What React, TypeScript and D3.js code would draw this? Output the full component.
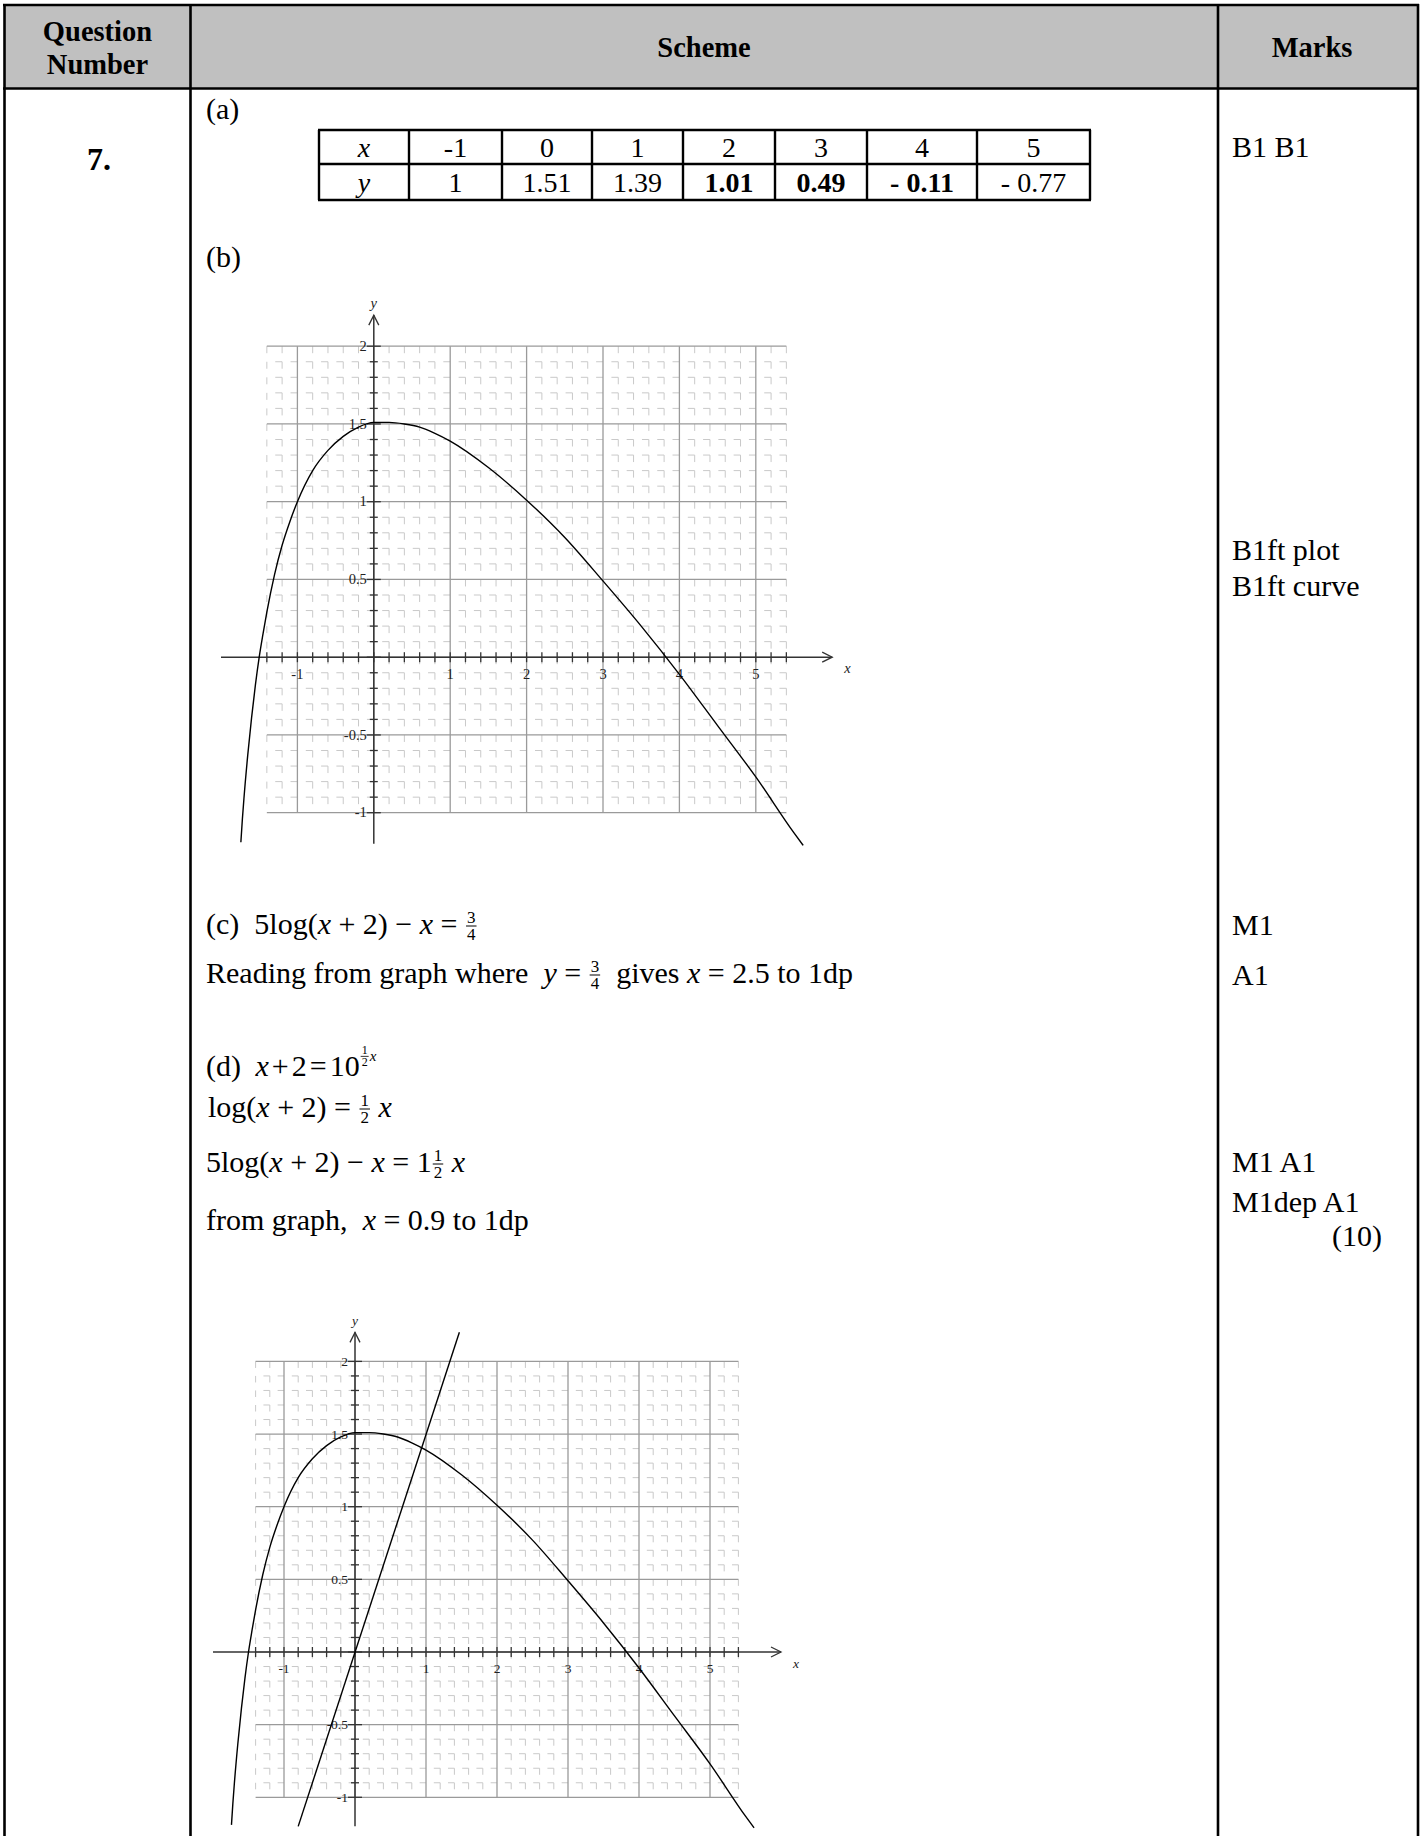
import { useEffect, useRef } from 'react';
import * as d3 from 'd3';

const W = 1424;
const H = 1836;
const serif = "'Liberation Serif', 'Times New Roman', Times, serif";

// ---- data ----
// part (a) table
const tableXs = ['-1', '0', '1', '2', '3', '4', '5'];
const tableYs = ['1', '1.51', '1.39', '1.01', '0.49', '- 0.11', '- 0.77'];
const tableBold = [false, false, false, true, true, true, false];

// y = 5log(x+2) - x
const curveX = [-1.74, -1.72, -1.7, -1.65, -1.6, -1.55, -1.5, -1.45, -1.4, -1.3, -1.2, -1.1, -1, -0.8, -0.6, -0.4, -0.2, 0, 0.2, 0.4, 0.6, 0.8, 1, 1.5, 2, 2.5, 3, 3.5, 4, 4.5, 5, 5.5, 5.62];
const curveY = [-1.19, -1.04, -0.91, -0.63, -0.39, -0.18, 0, 0.15, 0.29, 0.53, 0.72, 0.87, 1, 1.2, 1.33, 1.42, 1.48, 1.51, 1.51, 1.5, 1.48, 1.44, 1.39, 1.22, 1.01, 0.77, 0.49, 0.2, -0.11, -0.44, -0.77, -1.13, -1.21];

// straight line y = 1.5x on the second graph (end points)
const lineX = [-0.8, 1.47];
const lineY = [-1.2, 2.2];

const xTickVals = [-1, 1, 2, 3, 4, 5];
const xTickLabels = ['-1', '1', '2', '3', '4', '5'];
const yTickVals = [2, 1.5, 1, 0.5, -0.5, -1];
const yTickLabels = ['2', '1.5', '1', '0.5', '-0.5', '-1'];

const marksText = ['B1 B1', 'B1ft plot', 'B1ft curve', 'M1', 'A1', 'M1 A1', 'M1dep A1'];

// ---- layout ----
const colEdges = [319, 409, 502, 592, 683, 775, 867, 977, 1090];
const rowEdges = [130, 164, 200];
const marksBase = [157, 560, 596, 935, 985, 1172, 1212];

type Part = { t?: string; i?: boolean; frac?: [string, string]; fs?: number; rise?: number; size?: number; gap?: number };

function mathLine(g: any, x0: number, y0: number, parts: Part[], size = 30) {
  let cx = x0;
  parts.forEach((p) => {
    if (p.gap !== undefined) {
      cx += p.gap;
    } else if (p.frac) {
      const fs = p.fs || 17;
      const base = y0 - (p.rise || 0);
      const num = g.append('text').attr('font-size', fs).attr('text-anchor', 'middle').text(p.frac[0]);
      const den = g.append('text').attr('font-size', fs).attr('text-anchor', 'middle').text(p.frac[1]);
      const w = Math.max(num.node().getComputedTextLength(), den.node().getComputedTextLength()) + 2;
      const mid = cx + 1 + w / 2;
      num.attr('x', mid).attr('y', base - 0.65 * fs);
      den.attr('x', mid).attr('y', base + 0.36 * fs);
      g.append('line')
        .attr('x1', mid - w / 2).attr('x2', mid + w / 2)
        .attr('y1', base - 0.47 * fs).attr('y2', base - 0.47 * fs)
        .attr('stroke', '#000').attr('stroke-width', fs > 14 ? 1 : 0.8);
      cx += w + 2;
    } else {
      const t = g.append('text')
        .attr('x', cx)
        .attr('y', y0 - (p.rise || 0))
        .attr('font-size', p.size || size)
        .style('white-space', 'pre')
        .style('font-style', p.i ? 'italic' : 'normal')
        .text(p.t);
      cx += t.node().getComputedTextLength();
    }
  });
}

function drawGraph(svg: any, ox: number, oy: number, ux: number, uy: number, fs: number, withLine: boolean) {
  const x = d3.scaleLinear().domain([0, 1]).range([ox, ox + ux]);
  const y = d3.scaleLinear().domain([0, 1]).range([oy, oy - uy]);
  const g = svg.append('g');

  const xMinor = d3.range(-7, 28).map((i) => i / 5).filter((v) => Math.abs(v - Math.round(v)) > 1e-6);
  const yMinor = d3.range(-10, 21).map((i) => i / 10).filter((v) => Math.abs(v * 2 - Math.round(v * 2)) > 1e-6);
  const xMajor = d3.range(-1, 6);
  const yMajor = d3.range(-2, 5).map((i) => i / 2);

  const cw = x(0.2) - x(0);
  const ch = y(0) - y(0.1);

  g.selectAll('line.hmin').data(yMinor).join('line')
    .attr('x1', x(-1.4)).attr('x2', x(5.4))
    .attr('y1', (d: number) => y(d)).attr('y2', (d: number) => y(d))
    .attr('stroke', '#c9c9c9').attr('stroke-width', 1)
    .attr('stroke-dasharray', `${cw * 0.45},${cw * 0.55}`)
    .attr('stroke-dashoffset', cw * 0.45);

  g.selectAll('line.vmin').data(xMinor).join('line')
    .attr('x1', (d: number) => x(d)).attr('x2', (d: number) => x(d))
    .attr('y1', y(2)).attr('y2', y(-1))
    .attr('stroke', '#c9c9c9').attr('stroke-width', 1)
    .attr('stroke-dasharray', `${ch * 0.45},${ch * 0.55}`);

  g.selectAll('line.hmaj').data(yMajor).join('line')
    .attr('x1', x(-1.4)).attr('x2', x(5.4))
    .attr('y1', (d: number) => y(d)).attr('y2', (d: number) => y(d))
    .attr('stroke', '#9a9a9a').attr('stroke-width', 1.3);

  g.selectAll('line.vmaj').data(xMajor).join('line')
    .attr('x1', (d: number) => x(d)).attr('x2', (d: number) => x(d))
    .attr('y1', y(2)).attr('y2', y(-1))
    .attr('stroke', '#9a9a9a').attr('stroke-width', 1.3);

  // axes
  const ax = '#333';
  g.append('line').attr('x1', x(-2)).attr('x2', x(6)).attr('y1', y(0)).attr('y2', y(0))
    .attr('stroke', ax).attr('stroke-width', 1.5);
  g.append('line').attr('x1', x(0)).attr('x2', x(0)).attr('y1', y(-1.2)).attr('y2', y(2.2))
    .attr('stroke', ax).attr('stroke-width', 1.5);
  g.append('path')
    .attr('d', `M${x(6) - 10},${y(0) - 5}L${x(6)},${y(0)}L${x(6) - 10},${y(0) + 5}`)
    .attr('fill', 'none').attr('stroke', ax).attr('stroke-width', 1.3);
  g.append('path')
    .attr('d', `M${x(0) - 5},${y(2.2) + 10}L${x(0)},${y(2.2)}L${x(0) + 5},${y(2.2) + 10}`)
    .attr('fill', 'none').attr('stroke', ax).attr('stroke-width', 1.3);

  // ticks
  const xt = d3.range(-7, 28).map((i) => i / 5);
  g.selectAll('line.xt').data(xt).join('line')
    .attr('x1', (d: number) => x(d)).attr('x2', (d: number) => x(d))
    .attr('y1', y(0) - 5).attr('y2', y(0) + 5)
    .attr('stroke', ax).attr('stroke-width', 1.3);
  const yt = d3.range(-10, 21).map((i) => i / 10);
  g.selectAll('line.yt').data(yt).join('line')
    .attr('x1', (d: number) => x(0) - (Math.abs(d * 2 - Math.round(d * 2)) < 1e-6 ? 7 : 4))
    .attr('x2', (d: number) => x(0) + (Math.abs(d * 2 - Math.round(d * 2)) < 1e-6 ? 7 : 4))
    .attr('y1', (d: number) => y(d)).attr('y2', (d: number) => y(d))
    .attr('stroke', ax).attr('stroke-width', 1.3);

  // tick labels
  g.selectAll('text.xl').data(xTickVals).join('text')
    .attr('x', (d: number) => x(d)).attr('y', y(0) + fs + 7)
    .attr('text-anchor', 'middle').attr('font-size', fs).attr('fill', '#222')
    .text((d: number, i: number) => xTickLabels[i]);
  g.selectAll('text.yl').data(yTickVals).join('text')
    .attr('x', x(0) - 7).attr('y', (d: number) => y(d) + fs * 0.33)
    .attr('text-anchor', 'end').attr('font-size', fs).attr('fill', '#222')
    .text((d: number, i: number) => yTickLabels[i]);

  g.append('text').attr('x', x(6) + 12).attr('y', y(0) + 16)
    .attr('font-size', fs).style('font-style', 'italic').attr('fill', '#222').text('x');
  g.append('text').attr('x', x(0)).attr('y', y(2.2) - 7).attr('text-anchor', 'middle')
    .attr('font-size', fs).style('font-style', 'italic').attr('fill', '#222').text('y');

  // curve
  const pts = curveX.map((v, i) => [v, curveY[i]] as [number, number]);
  const line = d3.line<[number, number]>()
    .x((d) => x(d[0])).y((d) => y(d[1]))
    .curve(d3.curveMonotoneX);
  g.append('path').datum(pts).attr('d', line)
    .attr('fill', 'none').attr('stroke', '#000').attr('stroke-width', 1.4);

  if (withLine) {
    const lp = lineX.map((v, i) => [v, lineY[i]] as [number, number]);
    g.append('path').datum(lp).attr('d', d3.line<[number, number]>().x((d) => x(d[0])).y((d) => y(d[1])))
      .attr('fill', 'none').attr('stroke', '#000').attr('stroke-width', 1.4);
  }
}

export default function App() {
  const svgRef = useRef<SVGSVGElement>(null);

  useEffect(() => {
    const svg = d3.select(svgRef.current);
    svg.selectAll('*').remove();
    svg.style('font-family', serif);

    // header band and frame
    svg.append('rect').attr('x', 4).attr('y', 5).attr('width', 1414).attr('height', 83.5).attr('fill', '#c0c0c0');
    const frame = [
      [3, 5, 1419, 5],
      [3, 88.5, 1419, 88.5],
      [4.5, 4, 4.5, H],
      [190.5, 4, 190.5, H],
      [1218, 4, 1218, H],
      [1418, 4, 1418, H],
    ];
    frame.forEach(([x1, y1, x2, y2]) => {
      svg.append('line').attr('x1', x1).attr('y1', y1).attr('x2', x2).attr('y2', y2)
        .attr('stroke', '#000').attr('stroke-width', 2.6);
    });

    const head = svg.append('g').attr('font-weight', 'bold').attr('font-size', 28.5).attr('text-anchor', 'middle');
    head.append('text').attr('x', 97.5).attr('y', 41).text('Question');
    head.append('text').attr('x', 97.5).attr('y', 74).text('Number');
    head.append('text').attr('x', 704).attr('y', 57).text('Scheme');
    head.append('text').attr('x', 1312).attr('y', 57).text('Marks');

    svg.append('text').attr('x', 99).attr('y', 170).attr('text-anchor', 'middle')
      .attr('font-weight', 'bold').attr('font-size', 32).text('7.');

    // part labels
    svg.append('text').attr('x', 206).attr('y', 119).attr('font-size', 30).text('(a)');
    svg.append('text').attr('x', 206).attr('y', 267).attr('font-size', 30).text('(b)');

    // table in (a)
    const tb = svg.append('g');
    rowEdges.forEach((yy) => {
      tb.append('line').attr('x1', colEdges[0] - 1).attr('x2', colEdges[colEdges.length - 1] + 1)
        .attr('y1', yy).attr('y2', yy).attr('stroke', '#000').attr('stroke-width', 2.4);
    });
    colEdges.forEach((xx) => {
      tb.append('line').attr('x1', xx).attr('x2', xx).attr('y1', rowEdges[0]).attr('y2', rowEdges[2])
        .attr('stroke', '#000').attr('stroke-width', 2.4);
    });
    const mid = (i: number) => (colEdges[i] + colEdges[i + 1]) / 2;
    tb.append('text').attr('x', mid(0)).attr('y', 157).attr('text-anchor', 'middle').attr('font-size', 28)
      .style('font-style', 'italic').text('x');
    tb.append('text').attr('x', mid(0)).attr('y', 192).attr('text-anchor', 'middle').attr('font-size', 28)
      .style('font-style', 'italic').text('y');
    tableXs.forEach((v, i) => {
      tb.append('text').attr('x', mid(i + 1)).attr('y', 157).attr('text-anchor', 'middle').attr('font-size', 28).text(v);
    });
    tableYs.forEach((v, i) => {
      tb.append('text').attr('x', mid(i + 1)).attr('y', 192).attr('text-anchor', 'middle').attr('font-size', 28)
        .style('white-space', 'pre')
        .attr('font-weight', tableBold[i] ? 'bold' : 'normal').text(v);
    });

    // graphs
    drawGraph(svg, 373.8, 657.2, 76.4, 155.5, 14.5, false);
    drawGraph(svg, 355, 1652, 71, 145.3, 13.5, true);

    // parts (c) and (d)
    const tx = svg.append('g');
    mathLine(tx, 206, 934, [
      { t: '(c)  5log(' }, { t: 'x', i: true }, { t: ' + 2) − ' }, { t: 'x', i: true }, { t: ' = ' },
      { frac: ['3', '4'] },
    ]);
    mathLine(tx, 206, 983, [
      { t: 'Reading from graph where  ' }, { t: 'y', i: true }, { t: ' = ' }, { frac: ['3', '4'] },
      { t: '  gives ' }, { t: 'x', i: true }, { t: ' = 2.5 to 1dp' },
    ]);
    mathLine(tx, 206, 1076, [
      { t: '(d) ' }, { gap: 7 }, { t: 'x', i: true }, { gap: 3 }, { t: '+' }, { gap: 3 }, { t: '2' }, { gap: 3 },
      { t: '=' }, { gap: 3 }, { t: '10' },
      { frac: ['1', '2'], fs: 12, rise: 14 }, { t: 'x', i: true, size: 15, rise: 15 },
    ]);
    mathLine(tx, 208, 1117, [
      { t: 'log(' }, { t: 'x', i: true }, { t: ' + 2) = ' }, { frac: ['1', '2'] }, { t: ' ' }, { t: 'x', i: true },
    ]);
    mathLine(tx, 206, 1172, [
      { t: '5log(' }, { t: 'x', i: true }, { t: ' + 2) − ' }, { t: 'x', i: true }, { t: ' = 1' },
      { frac: ['1', '2'] }, { t: ' ' }, { t: 'x', i: true },
    ]);
    mathLine(tx, 206, 1230, [
      { t: 'from graph,  ' }, { t: 'x', i: true }, { t: ' = 0.9 to 1dp' },
    ]);

    // marks column
    const mk = svg.append('g').attr('font-size', 30);
    marksText.forEach((m, i) => {
      mk.append('text').attr('x', 1232).attr('y', marksBase[i]).text(m);
    });
    mk.append('text').attr('x', 1382).attr('y', 1246).attr('text-anchor', 'end').text('(10)');
  }, []);

  return (
    <div style={{ position: 'absolute', left: 0, top: 0, width: W, height: H, background: '#fff' }}>
      <svg ref={svgRef} width={W} height={H} style={{ display: 'block' }}></svg>
    </div>
  );
}
